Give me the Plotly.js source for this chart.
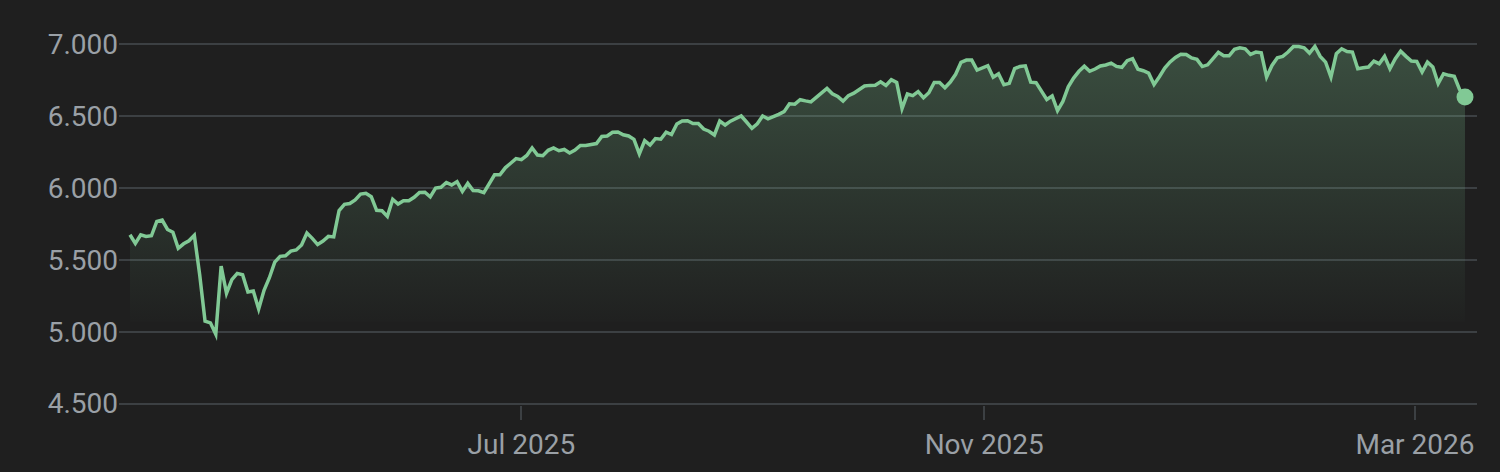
<!DOCTYPE html>
<html>
<head>
<meta charset="utf-8">
<script src="https://cdn.plot.ly/plotly-3.0.1.min.js"></script>
<style>
  html, body { margin: 0; padding: 0; background: #1f1f1f; }
  #chart { width: 1500px; height: 472px; }
  /* sharp corners on the price line, like the original */
  #chart .scatterlayer .js-line { stroke-linejoin: miter !important; stroke-miterlimit: 4; }
</style>
</head>
<body>
<div id="chart"></div>
<script>
// Daily closes, one value per trading day, from mid-March 2025 to mid-March 2026
const closesMar2025 = [5675, 5615, 5675, 5663, 5668, 5768, 5777, 5712, 5693, 5581, 5612];
const closesApr2025 = [5633, 5671, 5397, 5074, 5062, 4983, 5457, 5268, 5363, 5406, 5397,
    5276, 5283, 5158, 5288, 5376, 5485, 5525, 5529, 5561, 5569];
const closesMay2025 = [5604, 5687, 5650, 5607, 5631, 5664, 5660, 5844, 5887, 5893, 5917,
    5958, 5964, 5940, 5845, 5842, 5803, 5922, 5889, 5912, 5912];
const closesJun2025 = [5936, 5970, 5971, 5939, 6000, 6006, 6039, 6022, 6045, 5977, 6033,
    5983, 5981, 5968, 6025, 6092, 6092, 6141, 6173, 6205];
const closesJul2025 = [6198, 6227, 6279, 6230, 6226, 6263, 6280, 6260, 6269, 6244, 6264,
    6297, 6297, 6306, 6310, 6359, 6363, 6389, 6390, 6371, 6363, 6339];
const closesAug2025 = [6238, 6330, 6299, 6345, 6340, 6389, 6373, 6446, 6467, 6469, 6450,
    6449, 6411, 6396, 6370, 6467, 6439, 6466, 6481, 6502, 6460];
const closesSep2025 = [6416, 6448, 6502, 6482, 6495, 6513, 6532, 6587, 6584, 6615, 6607,
    6600, 6632, 6664, 6694, 6657, 6638, 6605, 6644, 6661, 6688];
const closesOct2025 = [6711, 6715, 6716, 6740, 6715, 6754, 6735, 6553, 6655, 6644, 6671,
    6629, 6664, 6735, 6735, 6699, 6738, 6792, 6875, 6891, 6891, 6822, 6840];
const closesNov2025 = [6852, 6772, 6796, 6720, 6729, 6832, 6847, 6851, 6737, 6734, 6672,
    6617, 6642, 6539, 6603, 6705, 6766, 6813, 6849];
const closesDec2025 = [6813, 6829, 6850, 6857, 6870, 6847, 6841, 6887, 6901, 6827, 6817,
    6800, 6721, 6775, 6835, 6878, 6910, 6932, 6930, 6906, 6896, 6846];
const closesJan2026 = [6858, 6902, 6945, 6921, 6921, 6966, 6977, 6970, 6931, 6947, 6942,
    6773, 6854, 6907, 6917, 6947, 6986, 6986, 6977, 6940];
const closesFeb2026 = [6986, 6917, 6877, 6773, 6935, 6970, 6951, 6947, 6831, 6838, 6843,
    6884, 6866, 6917, 6831, 6901, 6953, 6917, 6884];
const closesMar2026 = [6882, 6808, 6877, 6843, 6727, 6796, 6785, 6778, 6685, 6634];

// Month labels on the time axis (placed at the 1st of the month, in trading-day units)
const monthTickPos = [73, 159.33, 239.67];
const monthTickText = ['Jul 2025', 'Nov 2025', 'Mar 2026'];

// Price levels for the horizontal grid
const priceLevels = [4500, 5000, 5500, 6000, 6500, 7000];

const closes = [].concat(closesMar2025, closesApr2025, closesMay2025, closesJun2025,
    closesJul2025, closesAug2025, closesSep2025, closesOct2025, closesNov2025,
    closesDec2025, closesJan2026, closesFeb2026, closesMar2026);
const dayIndex = closes.map((_, i) => i);

const GREEN = '#81c995';
const FILL_FLOOR = 5070; // where the area shading fades out
const textFont = { family: 'Roboto, "Open Sans", sans-serif', size: 28, color: '#9aa0a6' };

const traces = [];

// invisible floor so the shading stops a little above the bottom
traces.push({
    x: dayIndex,
    y: closes.map(() => FILL_FLOOR),
    mode: 'lines',
    type: 'scatter',
    line: { width: 0 },
    hoverinfo: 'skip',
    showlegend: false
});

// price line with gradient shading below
traces.push({
    x: dayIndex,
    y: closes,
    mode: 'lines',
    type: 'scatter',
    fill: 'tonexty',
    fillgradient: {
        type: 'vertical',
        start: FILL_FLOOR,
        stop: 7000,
        colorscale: [[0, 'rgba(129,201,149,0.01)'], [1, 'rgba(129,201,149,0.28)']]
    },
    line: { color: GREEN, width: 3.5, shape: 'linear' },
    hovertemplate: '%{y:,.2f}<extra></extra>',
    showlegend: false
});

// last value marker
traces.push({
    x: [dayIndex[dayIndex.length - 1]],
    y: [closes[closes.length - 1]],
    mode: 'markers',
    type: 'scatter',
    marker: { color: GREEN, size: 17 },
    cliponaxis: false,
    hoverinfo: 'skip',
    showlegend: false
});

const layout = {
    width: 1500,
    height: 472,
    autosize: false,
    paper_bgcolor: '#1f1f1f',
    plot_bgcolor: '#1f1f1f',
    separators: ',.',
    margin: { l: 119, r: 23, t: 42.5, b: 66.5, pad: 0 },
    showlegend: false,
    xaxis: {
        range: [-2.05, 251.24],
        tickvals: monthTickPos,
        ticktext: monthTickText,
        ticks: 'outside',
        ticklen: 14,
        tickwidth: 2,
        tickcolor: '#3c4043',
        tickfont: textFont,
        showgrid: false,
        zeroline: false,
        showline: false,
        fixedrange: true
    },
    yaxis: {
        range: [4490, 7010],
        tickvals: priceLevels,
        tickformat: ',.0f',
        ticks: '',
        tickfont: textFont,
        ticklabelstandoff: 0,
        showgrid: true,
        gridcolor: '#3c4043',
        gridwidth: 2,
        zeroline: false,
        showline: false,
        fixedrange: true
    }
};

const config = { displayModeBar: false, staticPlot: true };

Plotly.newPlot('chart', traces, layout, config);
</script>
</body>
</html>
